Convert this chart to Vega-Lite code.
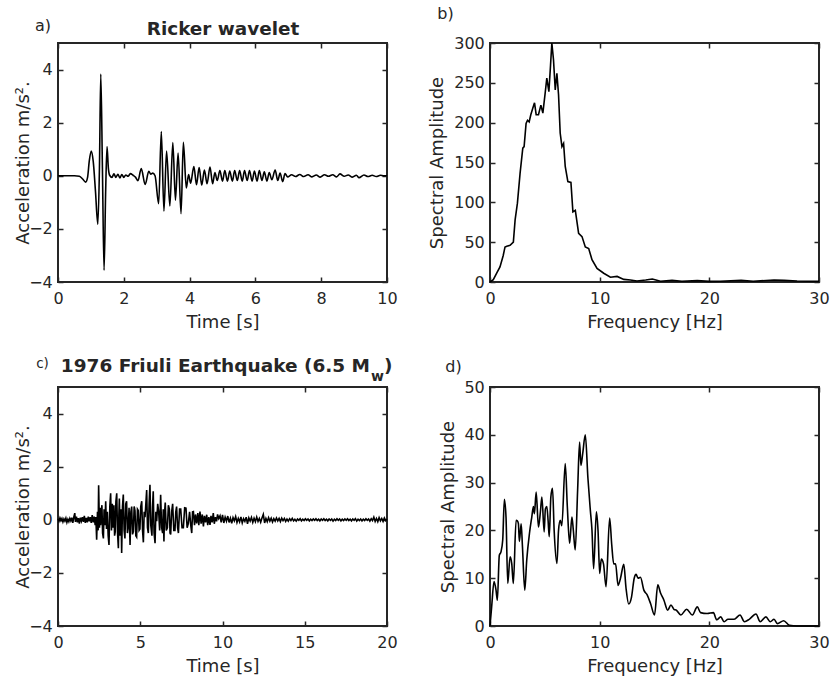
{
  "$schema": "https://vega.github.io/schema/vega-lite/v6.json",
  "autosize": {"type": "none"},
  "padding": {"left": 58, "top": 43, "right": 781, "bottom": 634},
  "background": "white",
  "bounds": "flush",
  "columns": 2,
  "spacing": {"row": 105, "column": 103},
  "datasets": {
    "ricker": [
      {"t":0,"a":0},{"t":0.5,"a":0},{"t":0.65,"a":-0.02},{"t":0.75,"a":-0.12},{"t":0.84,"a":-0.24},{"t":0.9,"a":-0.05},{"t":0.95,"a":0.55},{"t":1.01,"a":0.93},{"t":1.07,"a":0.55},{"t":1.14,"a":-0.6},{"t":1.21,"a":-1.83},{"t":1.26,"a":0.3},{"t":1.3,"a":3.83},{"t":1.35,"a":0.3},{"t":1.4,"a":-3.56},{"t":1.45,"a":-0.5},{"t":1.49,"a":1.1},{"t":1.53,"a":0.3},{"t":1.57,"a":0.02},
      {"t":1.64,"a":-0.06},{"t":1.7,"a":0.07},{"t":1.76,"a":-0.06},{"t":1.82,"a":0.06},{"t":1.88,"a":-0.08},{"t":1.94,"a":0.05},{"t":2.0,"a":-0.06},{"t":2.06,"a":0.03},{"t":2.13,"a":-0.02},{"t":2.2,"a":0.08},{"t":2.28,"a":0.02},{"t":2.36,"a":-0.06},{"t":2.43,"a":-0.19},{"t":2.53,"a":0.27},{"t":2.65,"a":-0.33},{"t":2.76,"a":0.17},{"t":2.82,"a":0.06},{"t":2.88,"a":0.1},{"t":2.95,"a":0.0},
      {"t":3.06,"a":-1.05},{"t":3.14,"a":1.67},{"t":3.22,"a":-1.33},{"t":3.3,"a":0.93},{"t":3.4,"a":-1.14},{"t":3.49,"a":1.25},{"t":3.57,"a":-0.92},{"t":3.65,"a":0.86},{"t":3.74,"a":-1.43},{"t":3.81,"a":1.26},{"t":3.9,"a":-0.46},{"t":3.97,"a":0.05},{"t":4.03,"a":-0.28},{"t":4.13,"a":0.35},{"t":4.21,"a":-0.34},{"t":4.29,"a":0.31},{"t":4.37,"a":-0.35},{"t":4.45,"a":0.22},{"t":4.53,"a":-0.3},{"t":4.62,"a":0.33},{"t":4.7,"a":-0.3},{"t":4.77,"a":0.12},{"t":4.84,"a":-0.18},
      {"t":4.92,"a":0.2},{"t":5.0,"a":-0.2},{"t":5.07,"a":0.2},{"t":5.15,"a":-0.2},{"t":5.22,"a":0.18},{"t":5.3,"a":-0.2},{"t":5.37,"a":0.2},{"t":5.45,"a":-0.18},{"t":5.52,"a":0.2},{"t":5.6,"a":-0.2},{"t":5.67,"a":0.2},{"t":5.75,"a":-0.18},{"t":5.82,"a":0.2},{"t":5.9,"a":-0.2},{"t":5.97,"a":0.18},{"t":6.05,"a":-0.2},{"t":6.12,"a":0.2},{"t":6.2,"a":-0.18},{"t":6.27,"a":0.15},{"t":6.35,"a":-0.2},{"t":6.42,"a":0.12},{"t":6.5,"a":-0.15},{"t":6.6,"a":0.22},{"t":6.68,"a":-0.18},{"t":6.75,"a":0.1},{"t":6.83,"a":-0.22},{"t":6.9,"a":0.08},{"t":6.98,"a":-0.04},
      {"t":7.1,"a":0.04},{"t":7.22,"a":-0.03},{"t":7.35,"a":0.05},{"t":7.47,"a":-0.03},{"t":7.6,"a":0.04},{"t":7.72,"a":-0.04},{"t":7.85,"a":0.03},{"t":7.97,"a":-0.05},{"t":8.1,"a":0.04},{"t":8.22,"a":-0.02},{"t":8.35,"a":0.04},{"t":8.47,"a":-0.04},{"t":8.57,"a":0.07},{"t":8.7,"a":-0.02},{"t":8.82,"a":0.03},{"t":8.95,"a":-0.05},{"t":9.07,"a":0.02},{"t":9.15,"a":-0.07},{"t":9.3,"a":0.03},{"t":9.42,"a":-0.03},{"t":9.55,"a":0.02},{"t":9.67,"a":-0.03},{"t":9.8,"a":0.02},{"t":9.9,"a":0.0},{"t":10,"a":0}
    ],
    "rickerSpec": [
      {"f":0,"s":0},{"f":0.3,"s":3},{"f":0.61,"s":11},{"f":0.91,"s":19},{"f":1.2,"s":33},{"f":1.37,"s":44},{"f":1.53,"s":45},{"f":1.83,"s":46},{"f":2.13,"s":50},{"f":2.29,"s":78},{"f":2.5,"s":99},{"f":2.74,"s":136},{"f":2.99,"s":168},{"f":3.11,"s":170},{"f":3.29,"s":199},{"f":3.42,"s":203},{"f":3.57,"s":201},{"f":3.72,"s":210},{"f":3.9,"s":218},{"f":4.06,"s":225},{"f":4.21,"s":210},{"f":4.42,"s":210},{"f":4.64,"s":222},{"f":4.82,"s":212},{"f":5.03,"s":237},{"f":5.18,"s":256},{"f":5.37,"s":239},{"f":5.52,"s":272},{"f":5.64,"s":300},{"f":5.79,"s":279},{"f":5.95,"s":241},{"f":6.1,"s":262},{"f":6.25,"s":235},{"f":6.4,"s":187},{"f":6.56,"s":170},{"f":6.71,"s":174},{"f":6.86,"s":145},{"f":7.1,"s":126},{"f":7.38,"s":125},{"f":7.56,"s":88},{"f":7.78,"s":90},{"f":8.08,"s":61},{"f":8.39,"s":57},{"f":8.69,"s":44},{"f":9.0,"s":42},{"f":9.3,"s":28},{"f":9.76,"s":17},{"f":10.37,"s":11},{"f":10.98,"s":6},{"f":11.59,"s":7},{"f":12.2,"s":3.3},{"f":12.8,"s":2.5},{"f":13.4,"s":1.3},{"f":14.2,"s":2.5},{"f":14.8,"s":3.8},{"f":15.55,"s":1},{"f":16.6,"s":2},{"f":17.5,"s":1},{"f":18.9,"s":1.7},{"f":20,"s":0.8},{"f":21,"s":1},{"f":22.9,"s":2},{"f":24,"s":1},{"f":25.9,"s":2.5},{"f":26.8,"s":2},{"f":28,"s":1.2},{"f":30,"s":0.8}
    ],
    "friuli": [
      {"t":0,"a":0.04},{"t":0.06,"a":-0.05},{"t":0.12,"a":0.07},{"t":0.18,"a":-0.03},{"t":0.24,"a":0.05},{"t":0.3,"a":-0.08},{"t":0.36,"a":0.03},{"t":0.42,"a":-0.05},{"t":0.48,"a":0.06},{"t":0.54,"a":-0.1},{"t":0.6,"a":0.02},{"t":0.66,"a":-0.07},{"t":0.72,"a":0.05},{"t":0.78,"a":-0.04},{"t":0.84,"a":0.08},{"t":0.9,"a":-0.12},{"t":0.96,"a":0.1},{"t":1.02,"a":0.25},{"t":1.06,"a":-0.08},{"t":1.12,"a":0.12},{"t":1.18,"a":-0.1},{"t":1.24,"a":0.06},{"t":1.3,"a":-0.14},{"t":1.36,"a":0.08},{"t":1.42,"a":-0.05},{"t":1.48,"a":0.1},{"t":1.54,"a":-0.08},{"t":1.6,"a":0.15},{"t":1.66,"a":-0.12},{"t":1.72,"a":0.07},{"t":1.78,"a":-0.1},{"t":1.84,"a":0.12},{"t":1.9,"a":-0.06},{"t":1.96,"a":0.1},{"t":2.02,"a":-0.12},{"t":2.08,"a":0.18},{"t":2.14,"a":-0.1},{"t":2.2,"a":0.12},{"t":2.26,"a":-0.2},
      {"t":2.3,"a":0.1},{"t":2.35,"a":-0.75},{"t":2.4,"a":0.3},{"t":2.44,"a":-0.4},{"t":2.47,"a":1.3},{"t":2.52,"a":-0.3},{"t":2.56,"a":0.45},{"t":2.59,"a":-0.2},{"t":2.63,"a":0.2},{"t":2.67,"a":0.55},{"t":2.71,"a":-0.5},{"t":2.76,"a":-0.7},{"t":2.8,"a":0.4},{"t":2.85,"a":-0.2},{"t":2.9,"a":0.7},{"t":2.95,"a":-0.35},{"t":3.0,"a":0.3},{"t":3.05,"a":-0.6},{"t":3.1,"a":-0.95},{"t":3.15,"a":0.5},{"t":3.2,"a":1.0},{"t":3.25,"a":-0.4},{"t":3.3,"a":0.6},{"t":3.35,"a":-0.3},{"t":3.4,"a":0.55},{"t":3.44,"a":-0.6},{"t":3.48,"a":-0.45},{"t":3.52,"a":0.7},{"t":3.57,"a":1.0},{"t":3.62,"a":-0.5},{"t":3.67,"a":-1.07},{"t":3.7,"a":0.2},{"t":3.73,"a":0.8},{"t":3.78,"a":-0.6},{"t":3.83,"a":0.4},{"t":3.87,"a":-1.25},{"t":3.92,"a":0.5},{"t":3.97,"a":0.95},{"t":4.02,"a":-0.4},{"t":4.07,"a":-0.7},{"t":4.12,"a":0.6},{"t":4.17,"a":0.7},{"t":4.22,"a":-0.5},{"t":4.27,"a":-0.25},{"t":4.32,"a":0.45},{"t":4.38,"a":-0.95},{"t":4.43,"a":0.3},{"t":4.48,"a":0.5},{"t":4.53,"a":-0.55},{"t":4.58,"a":-0.45},{"t":4.63,"a":0.5},{"t":4.68,"a":0.35},{"t":4.73,"a":-0.6},{"t":4.78,"a":-0.65},{"t":4.83,"a":0.4},{"t":4.88,"a":0.35},{"t":4.93,"a":-0.4},{"t":4.98,"a":-0.35},{"t":5.03,"a":0.5},{"t":5.09,"a":0.7},{"t":5.14,"a":-0.4},{"t":5.19,"a":-0.85},{"t":5.24,"a":0.3},{"t":5.29,"a":0.1},{"t":5.34,"a":0.6},{"t":5.39,"a":1.12},{"t":5.44,"a":-0.3},{"t":5.49,"a":-0.5},{"t":5.54,"a":0.6},{"t":5.59,"a":1.32},{"t":5.64,"a":-0.2},{"t":5.71,"a":-0.6},{"t":5.75,"a":0.5},{"t":5.79,"a":1.07},{"t":5.84,"a":-0.5},{"t":5.9,"a":-0.88},{"t":5.95,"a":0.3},{"t":6.0,"a":-0.05},{"t":6.06,"a":0.6},{"t":6.12,"a":0.3},{"t":6.18,"a":-0.4},{"t":6.24,"a":0.94},{"t":6.3,"a":-0.3},{"t":6.36,"a":-0.5},{"t":6.4,"a":0.4},{"t":6.44,"a":-0.82},{"t":6.48,"a":0.3},{"t":6.52,"a":0.65},{"t":6.58,"a":-0.4},{"t":6.65,"a":-0.3},{"t":6.71,"a":0.55},{"t":6.77,"a":0.4},{"t":6.81,"a":-0.5},{"t":6.85,"a":-0.55},{"t":6.91,"a":0.3},{"t":6.97,"a":0.6},{"t":7.04,"a":-0.4},{"t":7.11,"a":-0.4},{"t":7.16,"a":0.3},{"t":7.21,"a":0.5},{"t":7.27,"a":-0.3},{"t":7.32,"a":-0.5},{"t":7.39,"a":0.4},{"t":7.46,"a":0.4},{"t":7.54,"a":-0.3},{"t":7.62,"a":-0.3},{"t":7.7,"a":0.45},{"t":7.78,"a":0.44},{"t":7.85,"a":-0.3},{"t":7.92,"a":-0.14},{"t":8.0,"a":0.3},{"t":8.07,"a":-0.2},{"t":8.13,"a":-0.5},{"t":8.18,"a":0.3},{"t":8.23,"a":0.31},{"t":8.3,"a":-0.2},{"t":8.36,"a":0.2},{"t":8.43,"a":-0.14},{"t":8.5,"a":0.25},{"t":8.56,"a":-0.2},{"t":8.63,"a":0.31},{"t":8.7,"a":-0.15},{"t":8.77,"a":0.2},{"t":8.84,"a":-0.25},{"t":8.9,"a":0.15},{"t":8.97,"a":-0.1},{"t":9.04,"a":0.19},{"t":9.1,"a":-0.2},{"t":9.17,"a":0.1},{"t":9.24,"a":-0.19},{"t":9.3,"a":0.15},{"t":9.37,"a":-0.1},{"t":9.44,"a":0.25},{"t":9.5,"a":-0.15},{"t":9.57,"a":0.1},{"t":9.64,"a":-0.06},{"t":9.7,"a":0.2},{"t":9.77,"a":0.05},{"t":9.85,"a":0.15},{"t":9.92,"a":-0.1},{"t":10.0,"a":0.18},
      {"t":10.08,"a":-0.12},{"t":10.16,"a":0.1},{"t":10.24,"a":-0.05},{"t":10.32,"a":0.14},{"t":10.4,"a":-0.1},{"t":10.48,"a":0.06},{"t":10.56,"a":-0.13},{"t":10.64,"a":0.08},{"t":10.72,"a":-0.04},{"t":10.8,"a":0.12},{"t":10.88,"a":-0.1},{"t":10.96,"a":0.05},{"t":11.04,"a":-0.08},{"t":11.12,"a":0.11},{"t":11.2,"a":-0.12},{"t":11.28,"a":0.04},{"t":11.36,"a":-0.06},{"t":11.44,"a":0.1},{"t":11.52,"a":-0.15},{"t":11.6,"a":0.07},{"t":11.68,"a":-0.05},{"t":11.76,"a":0.09},{"t":11.84,"a":-0.1},{"t":11.92,"a":0.06},{"t":12.0,"a":-0.07},{"t":12.08,"a":0.1},{"t":12.16,"a":-0.06},{"t":12.24,"a":0.05},{"t":12.32,"a":-0.09},{"t":12.4,"a":0.07},{"t":12.48,"a":0.2},{"t":12.56,"a":-0.12},{"t":12.64,"a":0.05},{"t":12.72,"a":-0.07},{"t":12.8,"a":0.08},{"t":12.88,"a":-0.05},{"t":12.96,"a":0.06},{"t":13.04,"a":-0.08},{"t":13.12,"a":0.04},{"t":13.2,"a":-0.05},{"t":13.28,"a":0.07},{"t":13.36,"a":-0.04},{"t":13.44,"a":0.05},{"t":13.52,"a":-0.07},{"t":13.6,"a":0.06},{"t":13.68,"a":-0.03},{"t":13.76,"a":0.05},{"t":13.84,"a":-0.06},{"t":13.92,"a":0.03},{"t":14.0,"a":-0.05},{"t":14.08,"a":0.04},{"t":14.16,"a":-0.03},{"t":14.24,"a":0.05},{"t":14.32,"a":-0.04},{"t":14.4,"a":0.02},{"t":14.48,"a":-0.05},{"t":14.56,"a":0.03},{"t":14.64,"a":-0.02},{"t":14.72,"a":0.04},{"t":14.8,"a":-0.04},{"t":14.88,"a":0.02},{"t":14.96,"a":-0.03},{"t":15.04,"a":0.04},{"t":15.12,"a":-0.02},{"t":15.2,"a":0.03},{"t":15.28,"a":-0.04},{"t":15.36,"a":0.02},{"t":15.44,"a":-0.03},{"t":15.52,"a":0.03},{"t":15.6,"a":-0.02},{"t":15.68,"a":0.04},{"t":15.76,"a":-0.03},{"t":15.84,"a":0.02},{"t":15.92,"a":-0.04},{"t":16.0,"a":0.03},{"t":16.08,"a":-0.02},{"t":16.16,"a":0.04},{"t":16.24,"a":-0.03},{"t":16.32,"a":0.02},{"t":16.4,"a":-0.04},{"t":16.48,"a":0.03},{"t":16.56,"a":-0.02},{"t":16.64,"a":0.03},{"t":16.72,"a":-0.05},{"t":16.8,"a":0.02},{"t":16.88,"a":-0.03},{"t":16.96,"a":0.04},{"t":17.04,"a":-0.02},{"t":17.12,"a":0.03},{"t":17.2,"a":-0.04},{"t":17.28,"a":0.02},{"t":17.36,"a":-0.03},{"t":17.44,"a":0.03},{"t":17.52,"a":-0.02},{"t":17.6,"a":0.04},{"t":17.68,"a":-0.03},{"t":17.76,"a":0.02},{"t":17.84,"a":-0.04},{"t":17.92,"a":0.03},{"t":18.0,"a":-0.02},{"t":18.08,"a":0.04},{"t":18.16,"a":-0.05},{"t":18.24,"a":0.02},{"t":18.32,"a":-0.03},{"t":18.4,"a":0.03},{"t":18.48,"a":-0.04},{"t":18.56,"a":0.02},{"t":18.64,"a":-0.03},{"t":18.72,"a":0.04},{"t":18.8,"a":-0.02},{"t":18.88,"a":0.03},{"t":18.96,"a":-0.05},{"t":19.04,"a":0.04},{"t":19.12,"a":-0.03},{"t":19.2,"a":0.1},{"t":19.28,"a":-0.06},{"t":19.36,"a":0.05},{"t":19.44,"a":-0.07},{"t":19.52,"a":0.08},{"t":19.6,"a":-0.04},{"t":19.68,"a":0.05},{"t":19.76,"a":-0.06},{"t":19.84,"a":0.07},{"t":19.92,"a":-0.03},{"t":20.0,"a":0.02}
    ],
    "friuliSpec": [
      {"f":0,"s":0},{"f":0.15,"s":4},{"f":0.37,"s":9.3},{"f":0.55,"s":7.5},{"f":0.67,"s":5.4},{"f":0.85,"s":14.8},{"f":1.0,"s":15.5},{"f":1.16,"s":18},{"f":1.31,"s":26.5},{"f":1.46,"s":22.8},{"f":1.62,"s":8.9},{"f":1.83,"s":14.5},{"f":1.98,"s":13.1},{"f":2.13,"s":8.9},{"f":2.38,"s":22.1},{"f":2.5,"s":22},{"f":2.59,"s":21.4},{"f":2.68,"s":17.7},{"f":2.84,"s":21.4},{"f":2.96,"s":16.6},{"f":3.17,"s":7.5},{"f":3.35,"s":13.8},{"f":3.6,"s":19.4},{"f":3.81,"s":22.8},{"f":3.96,"s":25},{"f":4.05,"s":23.5},{"f":4.21,"s":28},{"f":4.42,"s":20.7},{"f":4.6,"s":24},{"f":4.73,"s":27},{"f":4.94,"s":19.7},{"f":5.05,"s":24.5},{"f":5.18,"s":25},{"f":5.3,"s":22},{"f":5.4,"s":18.7},{"f":5.55,"s":27},{"f":5.7,"s":28.8},{"f":5.85,"s":20},{"f":6.1,"s":13.1},{"f":6.25,"s":20},{"f":6.4,"s":22.1},{"f":6.55,"s":21},{"f":6.86,"s":34},{"f":7.05,"s":25},{"f":7.26,"s":17.3},{"f":7.47,"s":22.8},{"f":7.6,"s":20},{"f":7.77,"s":15.9},{"f":7.99,"s":28.4},{"f":8.17,"s":38.5},{"f":8.29,"s":33.6},{"f":8.45,"s":36},{"f":8.69,"s":40},{"f":8.93,"s":30.9},{"f":9.15,"s":24.2},{"f":9.3,"s":20},{"f":9.45,"s":12},{"f":9.7,"s":23.9},{"f":9.85,"s":20},{"f":10.0,"s":11},{"f":10.15,"s":14},{"f":10.35,"s":13},{"f":10.58,"s":8.2},{"f":10.91,"s":22.6},{"f":11.1,"s":17},{"f":11.28,"s":13},{"f":11.45,"s":13},{"f":11.68,"s":8.5},{"f":11.9,"s":10},{"f":12.2,"s":12.9},{"f":12.4,"s":8},{"f":12.65,"s":4.6},{"f":12.9,"s":6},{"f":13.15,"s":10},{"f":13.32,"s":10.8},{"f":13.5,"s":10},{"f":13.72,"s":10.2},{"f":14.03,"s":7.5},{"f":14.33,"s":6.5},{"f":14.64,"s":4.7},{"f":15.0,"s":2.3},{"f":15.3,"s":8.6},{"f":15.55,"s":6.9},{"f":15.86,"s":5.4},{"f":16.2,"s":3.3},{"f":16.5,"s":4.4},{"f":16.77,"s":3.5},{"f":17.0,"s":3.3},{"f":17.4,"s":2.3},{"f":17.93,"s":3.5},{"f":18.45,"s":2.3},{"f":18.9,"s":4.0},{"f":19.2,"s":2.8},{"f":19.8,"s":2.6},{"f":20.37,"s":2.8},{"f":20.67,"s":1.3},{"f":21.04,"s":1.9},{"f":21.35,"s":0.9},{"f":21.7,"s":1.4},{"f":22.26,"s":1.4},{"f":22.8,"s":2.3},{"f":23.2,"s":0.9},{"f":23.64,"s":1.4},{"f":24.25,"s":2.5},{"f":24.64,"s":0.9},{"f":25.16,"s":1.9},{"f":25.56,"s":0.9},{"f":25.9,"s":1.4},{"f":26.2,"s":0.5},{"f":26.78,"s":1.1},{"f":27.3,"s":0.15},{"f":28.0,"s":0},{"f":30,"s":0}
    ]
  },
  "concat": [
    {
      "width": 329, "height": 239,
      "layer": [
        {
          "data": {"name": "ricker"},
          "mark": {"type": "line", "color": "#000000", "strokeWidth": 1.6, "interpolate": "monotone"},
          "encoding": {
            "x": {"field": "t", "type": "quantitative", "scale": {"domain": [0, 10], "nice": false, "zero": false},
                  "axis": {"orient": "bottom", "values": [0, 2, 4, 6, 8, 10], "title": "Time [s]", "titleX": 164.5, "titleY": 45.5, "titleBaseline": "alphabetic", "titleAlign": "center", "titleAngle": 0}},
            "y": {"field": "a", "type": "quantitative", "scale": {"domain": [-4, 5], "nice": false, "zero": false},
                  "axis": {"orient": "left", "values": [-4, -2, 0, 2, 4], "title": "Acceleration m/s\u00b2.", "titleX": -30, "titleY": 119.5, "titleBaseline": "alphabetic", "titleAlign": "center", "titleAngle": 270}}
          }
        },
        {
          "data": {"name": "ricker"},
          "mark": {"type": "line", "opacity": 0},
          "encoding": {
            "x": {"field": "t", "type": "quantitative", "scale": {"domain": [0, 10], "nice": false, "zero": false},
                  "axis": {"orient": "top", "labels": false, "values": [0, 2, 4, 6, 8, 10], "title": "Ricker wavelet", "titleX": 164.5, "titleY": -8.7, "titleBaseline": "alphabetic", "titleAlign": "center", "titleAngle": 0, "titleFontWeight": "bold", "titleFontSize": 18.4}},
            "y": {"field": "a", "type": "quantitative", "scale": {"domain": [-4, 5], "nice": false, "zero": false},
                  "axis": {"orient": "right", "labels": false, "values": [-4, -2, 0, 2, 4], "title": "a)", "titleX": -344.5, "titleY": -12.8, "titleBaseline": "alphabetic", "titleAlign": "center", "titleAngle": 0, "titleFontSize": 16}}
          }
        }
      ],
      "resolve": {"axis": {"x": "independent", "y": "independent"}}
    },
    {
      "width": 329, "height": 239,
      "layer": [
        {
          "data": {"name": "rickerSpec"},
          "mark": {"type": "line", "color": "#000000", "strokeWidth": 1.6},
          "encoding": {
            "x": {"field": "f", "type": "quantitative", "scale": {"domain": [0, 30], "nice": false, "zero": false},
                  "axis": {"orient": "bottom", "values": [0, 10, 20, 30], "title": "Frequency [Hz]", "titleX": 164.5, "titleY": 45.5, "titleBaseline": "alphabetic", "titleAlign": "center", "titleAngle": 0}},
            "y": {"field": "s", "type": "quantitative", "scale": {"domain": [0, 300], "nice": false, "zero": false},
                  "axis": {"orient": "left", "values": [0, 50, 100, 150, 200, 250, 300], "title": "Spectral Amplitude", "titleX": -48, "titleY": 119.5, "titleBaseline": "alphabetic", "titleAlign": "center", "titleAngle": 270}}
          }
        },
        {
          "data": {"name": "rickerSpec"},
          "mark": {"type": "line", "opacity": 0},
          "encoding": {
            "x": {"field": "f", "type": "quantitative", "scale": {"domain": [0, 30], "nice": false, "zero": false},
                  "axis": {"orient": "top", "labels": false, "values": [0, 10, 20, 30], "title": null}},
            "y": {"field": "s", "type": "quantitative", "scale": {"domain": [0, 300], "nice": false, "zero": false},
                  "axis": {"orient": "right", "labels": false, "values": [0, 50, 100, 150, 200, 250, 300], "title": "b)", "titleX": -374, "titleY": -25, "titleBaseline": "alphabetic", "titleAlign": "center", "titleAngle": 0, "titleFontSize": 16}}
          }
        }
      ],
      "resolve": {"axis": {"x": "independent", "y": "independent"}}
    },
    {
      "width": 329, "height": 239,
      "layer": [
        {
          "data": {"name": "friuli"},
          "mark": {"type": "line", "color": "#000000", "strokeWidth": 1.6},
          "encoding": {
            "x": {"field": "t", "type": "quantitative", "scale": {"domain": [0, 20], "nice": false, "zero": false},
                  "axis": {"orient": "bottom", "values": [0, 5, 10, 15, 20], "title": "Time [s]", "titleX": 164.5, "titleY": 45.5, "titleBaseline": "alphabetic", "titleAlign": "center", "titleAngle": 0}},
            "y": {"field": "a", "type": "quantitative", "scale": {"domain": [-4, 5], "nice": false, "zero": false},
                  "axis": {"orient": "left", "values": [-4, -2, 0, 2, 4], "title": "Acceleration m/s\u00b2.", "titleX": -30, "titleY": 119.5, "titleBaseline": "alphabetic", "titleAlign": "center", "titleAngle": 270}}
          }
        },
        {
          "data": {"name": "friuli"},
          "mark": {"type": "line", "opacity": 0},
          "encoding": {
            "x": {"field": "t", "type": "quantitative", "scale": {"domain": [0, 20], "nice": false, "zero": false},
                  "axis": {"orient": "top", "labels": false, "values": [0, 5, 10, 15, 20], "title": "1976 Friuli Earthquake (6.5 M", "titleX": 311.5, "titleY": -16, "titleBaseline": "alphabetic", "titleAlign": "right", "titleAngle": 0, "titleFontWeight": "bold", "titleFontSize": 18.5}},
            "y": {"field": "a", "type": "quantitative", "scale": {"domain": [-4, 5], "nice": false, "zero": false},
                  "axis": {"orient": "right", "labels": false, "values": [-4, -2, 0, 2, 4], "title": "c)", "titleX": -345, "titleY": -19.5, "titleBaseline": "alphabetic", "titleAlign": "center", "titleAngle": 0, "titleFontSize": 13.5}}
          }
        },
        {
          "data": {"name": "friuli"},
          "mark": {"type": "line", "opacity": 0},
          "encoding": {
            "x": {"field": "t", "type": "quantitative", "scale": {"domain": [0, 20], "nice": false, "zero": false},
                  "axis": {"orient": "top", "labels": false, "ticks": false, "title": ")", "titleX": 325.5, "titleY": -16, "titleBaseline": "alphabetic", "titleAlign": "left", "titleAngle": 0, "titleFontWeight": "bold", "titleFontSize": 18.5}},
            "y": {"field": "a", "type": "quantitative", "scale": {"domain": [-4, 5], "nice": false, "zero": false},
                  "axis": {"orient": "left", "labels": false, "ticks": false, "title": "w", "titleX": 319, "titleY": -6.3, "titleBaseline": "alphabetic", "titleAlign": "center", "titleAngle": 0, "titleFontWeight": "bold", "titleFontSize": 14}}
          }
        }
      ],
      "resolve": {"axis": {"x": "independent", "y": "independent"}}
    },
    {
      "width": 329, "height": 239,
      "layer": [
        {
          "data": {"name": "friuliSpec"},
          "mark": {"type": "line", "color": "#000000", "strokeWidth": 1.6, "interpolate": "monotone"},
          "encoding": {
            "x": {"field": "f", "type": "quantitative", "scale": {"domain": [0, 30], "nice": false, "zero": false},
                  "axis": {"orient": "bottom", "values": [0, 10, 20, 30], "title": "Frequency [Hz]", "titleX": 164.5, "titleY": 45.5, "titleBaseline": "alphabetic", "titleAlign": "center", "titleAngle": 0}},
            "y": {"field": "s", "type": "quantitative", "scale": {"domain": [0, 50], "nice": false, "zero": false},
                  "axis": {"orient": "left", "values": [0, 10, 20, 30, 40, 50], "title": "Spectral Amplitude", "titleX": -37, "titleY": 119.5, "titleBaseline": "alphabetic", "titleAlign": "center", "titleAngle": 270}}
          }
        },
        {
          "data": {"name": "friuliSpec"},
          "mark": {"type": "line", "opacity": 0},
          "encoding": {
            "x": {"field": "f", "type": "quantitative", "scale": {"domain": [0, 30], "nice": false, "zero": false},
                  "axis": {"orient": "top", "labels": false, "values": [0, 10, 20, 30], "title": null}},
            "y": {"field": "s", "type": "quantitative", "scale": {"domain": [0, 50], "nice": false, "zero": false},
                  "axis": {"orient": "right", "labels": false, "values": [0, 10, 20, 30, 40, 50], "title": "d)", "titleX": -366, "titleY": -15.5, "titleBaseline": "alphabetic", "titleAlign": "center", "titleAngle": 0, "titleFontSize": 16}}
          }
        }
      ],
      "resolve": {"axis": {"x": "independent", "y": "independent"}}
    }
  ],
  "config": {
    "font": "DejaVu Sans",
    "view": {"stroke": "#262626", "strokeWidth": 2},
    "axis": {"domain": false, "grid": false, "ticks": true, "tickSize": -5, "tickWidth": 1.5, "tickColor": "#262626",
             "labelFont": "DejaVu Sans", "labelFontSize": 16, "labelColor": "#262626", "labelPadding": 13.7, "labelFlush": false, "labelOverlap": false,
             "titleFont": "DejaVu Sans", "titleFontSize": 18, "titleColor": "#262626", "titleFontWeight": "normal"},
    "axisLeft": {"labelPadding": 10.7}
  }
}
